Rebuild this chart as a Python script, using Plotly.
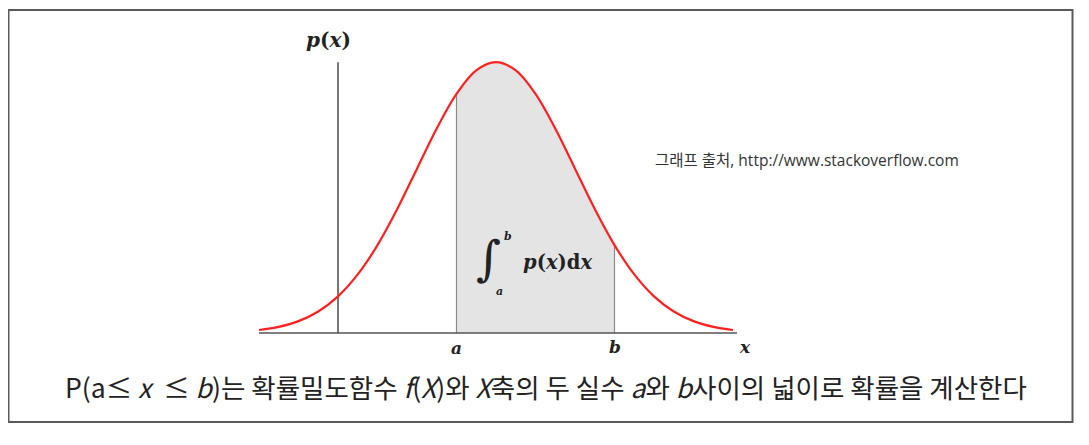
import plotly.graph_objects as go

# density curve (x in sigma units, height in density units)
xs = [-3.0, -2.75, -2.5, -2.25, -2.0, -1.75, -1.5, -1.25, -1.0, -0.75, -0.5, -0.25,
      0.0, 0.25, 0.5, 0.75, 1.0, 1.25, 1.5, 1.75, 2.0, 2.25, 2.5, 2.75, 3.0]
ps = [0.0044, 0.0091, 0.0175, 0.0317, 0.054, 0.0863, 0.1295, 0.1826, 0.242, 0.3011,
      0.3521, 0.3867, 0.3989, 0.3867, 0.3521, 0.3011, 0.242, 0.1826, 0.1295, 0.0863,
      0.054, 0.0317, 0.0175, 0.0091, 0.0044]
a_val = -0.5
b_val = 1.5
axis_x = -2.0

W, H = 1089, 445
OFF = 8                  # page body margin in the browser
PX0, SX = 496 - OFF, 79.0
PY0, SY = 333 - OFF, 679.0

def px(p):
    return (p - OFF) / W

def py(p):
    return 1 - (p - OFF) / H

fig = go.Figure()

# shaded area between a and b
sx = [x for x in xs if a_val <= x <= b_val]
sy = [p for x, p in zip(xs, ps) if a_val <= x <= b_val]
fig.add_trace(go.Scatter(x=sx, y=sy, mode="lines", line=dict(width=0, shape="spline"),
                         fill="tozeroy", fillcolor="#e4e4e4", hoverinfo="skip"))
fig.add_trace(go.Scatter(x=[a_val, a_val], y=[0, sy[0]], mode="lines",
                         line=dict(color="#8a8a8a", width=1.2), hoverinfo="skip"))
fig.add_trace(go.Scatter(x=[b_val, b_val], y=[0, sy[-1]], mode="lines",
                         line=dict(color="#8a8a8a", width=1.2), hoverinfo="skip"))
# axes
fig.add_trace(go.Scatter(x=[xs[0], xs[-1] + 0.05], y=[0, 0], mode="lines",
                         line=dict(color="#555555", width=1.6), hoverinfo="skip"))
fig.add_trace(go.Scatter(x=[axis_x, axis_x], y=[0, max(ps)], mode="lines",
                         line=dict(color="#555555", width=1.6), hoverinfo="skip"))
# density curve
fig.add_trace(go.Scatter(x=xs, y=ps, mode="lines",
                         line=dict(color="#ff2020", width=2.2, shape="spline")))

xr = [(0 - PX0) / SX, (W - PX0) / SX]
yr = [(PY0 - H) / SY, PY0 / SY]

serif = "DejaVu Serif"
ann = []
def add(text, x, y, size, font=serif, color="#222222", xref="paper", xanchor="center", yanchor="middle"):
    ann.append(dict(text=text, x=x, y=y, xref=xref, yref="paper", showarrow=False,
                    font=dict(family=font, size=size, color=color),
                    xanchor=xanchor, yanchor=yanchor))

add("<b><i>p</i>(<i>x</i>)</b>", px(328), py(40), 20)
add("<b><i>a</i></b>", a_val, py(348), 17, xref="x")
add("<b><i>b</i></b>", b_val, py(347), 17, xref="x")
add("<b><i>x</i></b>", xs[-1] + 0.15, py(347), 17, xref="x")
# integral label
add("<i>∫</i>", px(488), py(258), 48)
add("<b><i>b</i></b>", px(508), py(237), 11)
add("<b><i>a</i></b>", px(499), py(291), 11)
add("<b><i>p</i>(<i>x</i>)d<i>x</i></b>", px(557), py(262), 19.5)
# source note
add("그래프 출처, http://www.stackoverflow.com", px(653), py(160), 15.5,
    font="Open Sans, Noto Sans CJK KR", color="#333333", xanchor="left")
# caption
add("P(a≤ <i>x</i>  ≤ <i>b</i>)는 확률밀도함수 <i>f</i>(<i>X</i>)와 <i>X</i>축의 두 실수 <i>a</i>와 <i>b</i>사이의 넓이로 확률을 계산한다",
    px(546), py(386), 26.5, font="Noto Sans CJK KR", color="#222222")

fig.update_layout(
    width=W, height=H, margin=dict(l=0, r=0, t=0, b=0),
    paper_bgcolor="white", plot_bgcolor="white", showlegend=False,
    xaxis=dict(range=xr, visible=False, fixedrange=True),
    yaxis=dict(range=yr, visible=False, fixedrange=True),
    annotations=ann,
    shapes=[dict(type="rect", xref="paper", yref="paper",
                 x0=px(8.5), x1=px(1072.5), y0=py(422), y1=py(10),
                 line=dict(color="#5a5a5a", width=2))],
)

fig.write_html("out.html")
